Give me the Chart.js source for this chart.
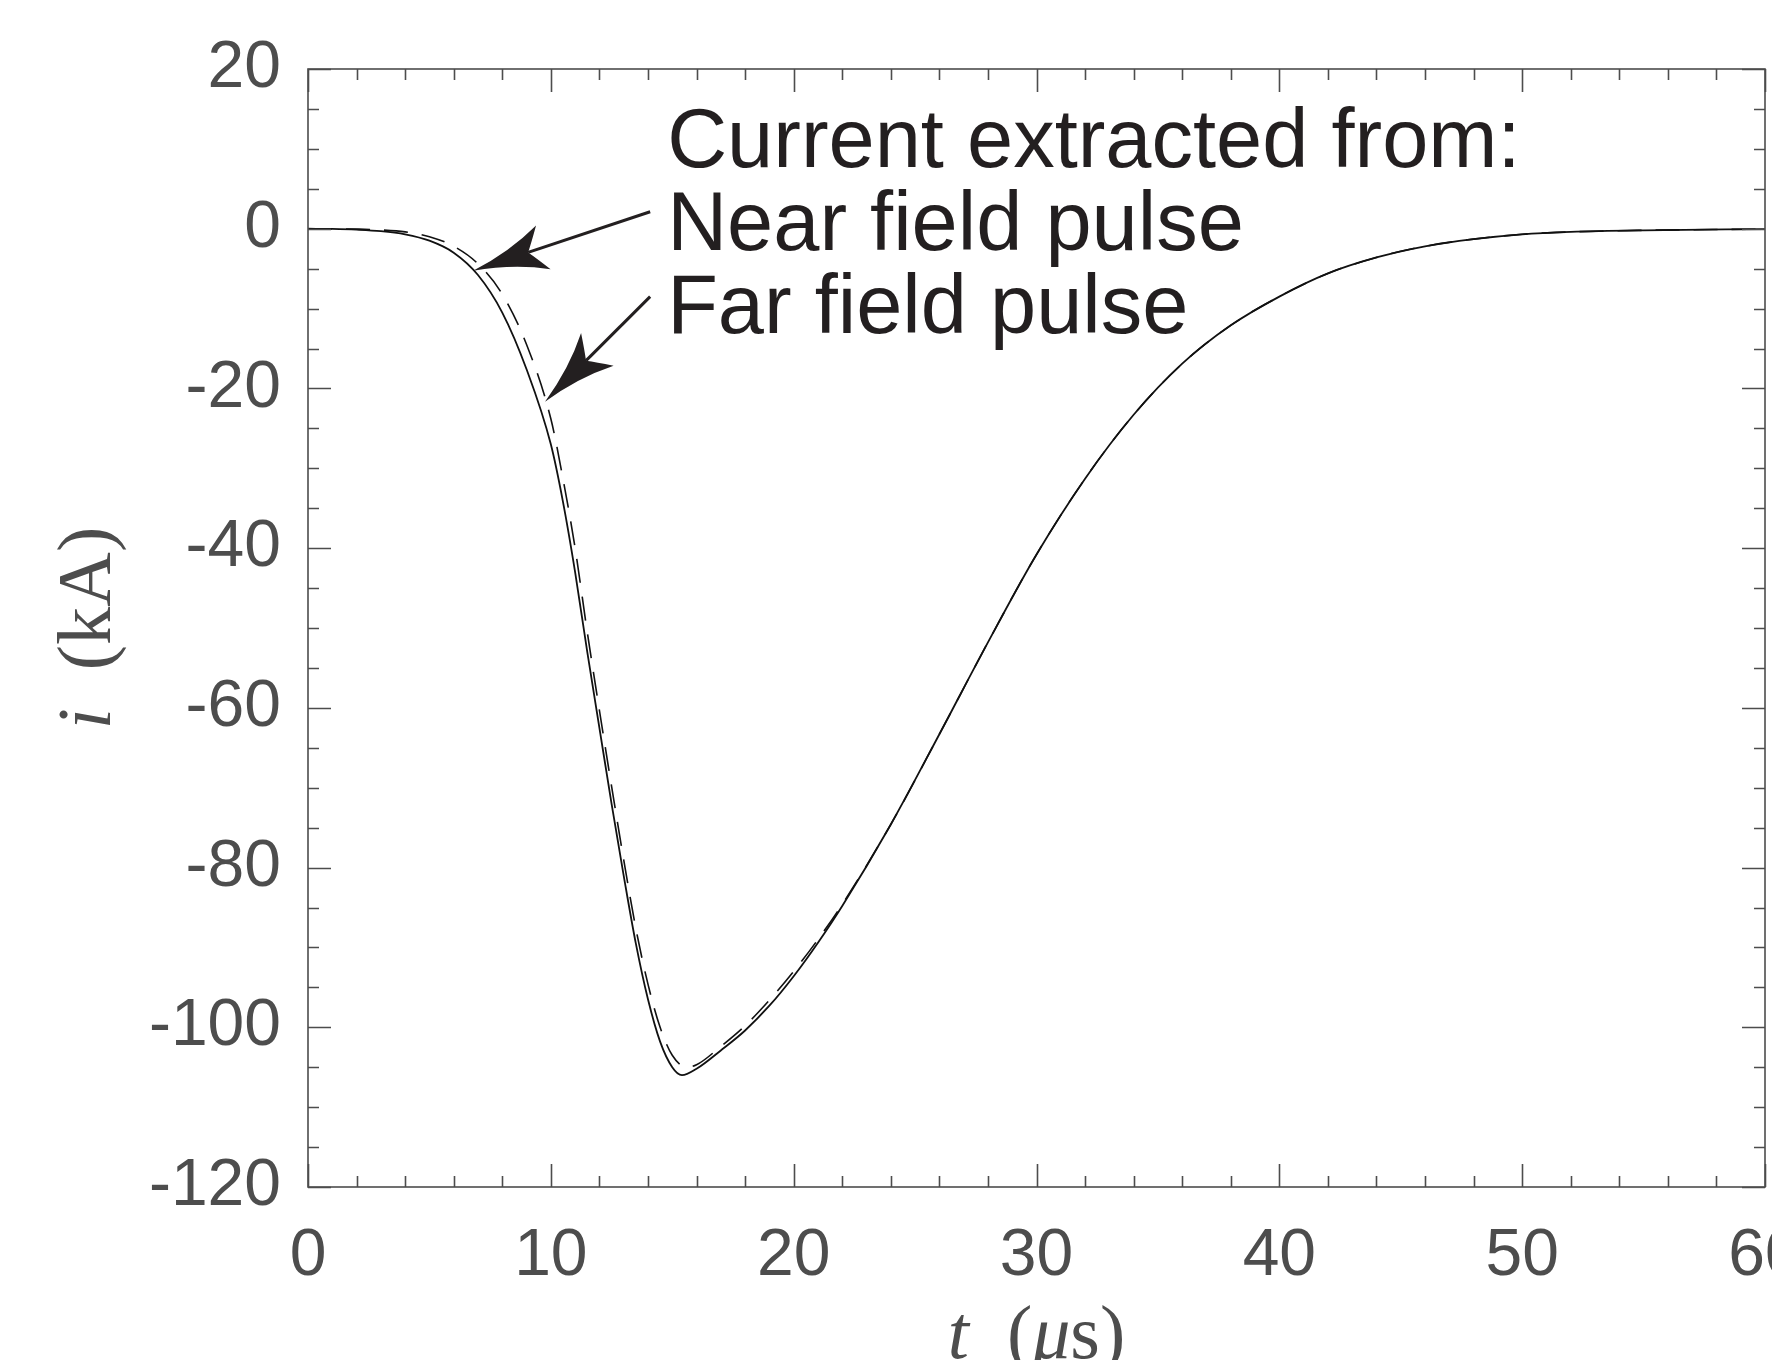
<!DOCTYPE html>
<html>
<head>
<meta charset="utf-8">
<script src="https://cdn.jsdelivr.net/npm/chart.js@4.4.0/dist/chart.umd.min.js"></script>
<style>
html,body{margin:0;padding:0;background:#ffffff;overflow:hidden;}
#wrap{width:1772px;height:1360px;position:relative;}
</style>
</head>
<body>
<div id="wrap"><canvas id="c" width="1772" height="1360"></canvas></div>
<script>
// ---- data ----
const timeNear = [0,1,2,3,4,5,6,7,8,9,10,10.5,11,11.5,12,12.5,13,13.5,14,14.5,15,15.4,16,17,18,19,20,21,22,24,26,28,30,32,34,36,38,40,42,44,46,48,50,52,55,60];
const currentNear = [0,-0.03,-0.12,-0.3,-0.7,-1.5,-3.0,-5.8,-10.5,-17.6,-27.0,-34.2,-43.0,-53.0,-62.5,-72.0,-81.0,-89.5,-96.5,-101.8,-105.0,-106.0,-105.2,-102.9,-100.4,-97.3,-93.6,-89.4,-84.8,-74.6,-63.3,-51.8,-40.8,-31.3,-23.3,-16.9,-12.1,-8.5,-5.6,-3.6,-2.2,-1.3,-0.7,-0.4,-0.2,-0.05];

const timeFar = [0,1,2,3,4,5,6,7,8,9,10,10.5,11,11.5,12,12.5,13,13.5,14,14.5,15,15.6,16,17,18,19,20,21,22,24,26,28,30,32,34,36,38,40,42,44,46,48,50,52,55,60];
const currentFar = [0,-0.01,-0.05,-0.15,-0.4,-1.0,-2.2,-4.4,-8.2,-14.5,-23.8,-31.3,-40.0,-50.5,-60.3,-69.8,-79.0,-87.6,-94.6,-100.0,-103.5,-105.0,-104.7,-102.4,-99.8,-96.6,-93.0,-89.0,-84.6,-74.6,-63.3,-51.8,-40.8,-31.3,-23.3,-16.9,-12.1,-8.5,-5.6,-3.6,-2.2,-1.3,-0.7,-0.4,-0.2,-0.05];

const xTickLabels = [0,10,20,30,40,50,60];
const yTickLabels = [20,0,-20,-40,-60,-80,-100,-120];

const noteLines = ['Current extracted from:', 'Near field pulse', 'Far field pulse'];

// ---- layout / style (not data) ----
const AXIS = '#4d4d4d';
const INK = '#231f20';
const noteAnchor = {t: 14.79, v: [7.76, -2.63, -13.0]};
const arrows = [
  {from: {t: 14.09, v: 2.13}, to: {t: 6.8, v: -5.26}},
  {from: {t: 14.09, v: -8.5}, to: {t: 9.76, v: -21.66}}
];

function pts(ts, vs){ return ts.map((t,i)=>({x:t, y:vs[i]})); }

const framePlugin = {
  id: 'frame',
  afterDatasetsDraw(chart){
    const {ctx, chartArea:a, scales:{x, y}} = chart;
    ctx.save();
    ctx.strokeStyle = AXIS;
    ctx.lineWidth = 1.6;
    ctx.beginPath();
    for (let v = 0; v <= 60; v += 2){
      const px = Math.round(x.getPixelForValue(v)) + 0.5;
      const L = (v % 10 === 0) ? 23 : 11;
      ctx.moveTo(px, a.bottom); ctx.lineTo(px, a.bottom - L);
      ctx.moveTo(px, a.top); ctx.lineTo(px, a.top + L);
    }
    for (let v = -120; v <= 20; v += 5){
      const py = Math.round(y.getPixelForValue(v)) + 0.5;
      const L = (v % 20 === 0) ? 23 : 11;
      ctx.moveTo(a.left, py); ctx.lineTo(a.left + L, py);
      ctx.moveTo(a.right, py); ctx.lineTo(a.right - L, py);
    }
    ctx.stroke();
    ctx.strokeRect(a.left, a.top, a.right - a.left, a.bottom - a.top);
    ctx.restore();
  },
  afterDraw(chart){
    const {ctx, chartArea:a, scales:{x, y}} = chart;
    ctx.save();
    // annotation text
    ctx.fillStyle = INK;
    ctx.font = '83px "Liberation Sans", Arial, sans-serif';
    ctx.textAlign = 'left';
    ctx.textBaseline = 'alphabetic';
    noteLines.forEach((s, i)=>{
      ctx.fillText(s, x.getPixelForValue(noteAnchor.t), y.getPixelForValue(noteAnchor.v[i]));
    });
    // arrows
    arrows.forEach(ar=>{
      const x0 = x.getPixelForValue(ar.from.t), y0 = y.getPixelForValue(ar.from.v);
      const x1 = x.getPixelForValue(ar.to.t), y1 = y.getPixelForValue(ar.to.v);
      const dx = x0 - x1, dy = y0 - y1, len = Math.hypot(dx, dy);
      const ux = dx/len, uy = dy/len, nx = -uy, ny = ux;
      const P = (al, pe)=>[x1 + ux*al + nx*pe, y1 + uy*al + ny*pe];
      ctx.strokeStyle = INK; ctx.lineWidth = 3;
      ctx.beginPath();
      const n = P(58, 0);
      ctx.moveTo(x0, y0); ctx.lineTo(n[0], n[1]); ctx.stroke();
      const b1 = P(74, -23), b2 = P(74, 23), c1 = P(40, -6), c2 = P(40, 6);
      const k1 = P(64, -8), k2 = P(64, 8);
      ctx.fillStyle = INK;
      ctx.beginPath();
      ctx.moveTo(x1, y1);
      ctx.quadraticCurveTo(c1[0], c1[1], b1[0], b1[1]);
      ctx.quadraticCurveTo(k1[0], k1[1], n[0], n[1]);
      ctx.quadraticCurveTo(k2[0], k2[1], b2[0], b2[1]);
      ctx.quadraticCurveTo(c2[0], c2[1], x1, y1);
      ctx.closePath();
      ctx.fill();
    });
    // y axis title: i (kA)
    ctx.fillStyle = AXIS;
    const fs = 76;
    const fItal = 'italic ' + fs + 'px "Liberation Serif", "Times New Roman", serif';
    const fReg = fs + 'px "Liberation Serif", "Times New Roman", serif';
    ctx.save();
    const ycx = (a.top + a.bottom) / 2;
    ctx.translate(110, ycx);
    ctx.rotate(-Math.PI/2);
    ctx.font = fItal; const wi = ctx.measureText('i').width;
    ctx.font = fReg; const wr = ctx.measureText('  (kA)').width;
    let sx = -(wi + wr)/2;
    ctx.textBaseline = 'alphabetic'; ctx.textAlign = 'left';
    ctx.font = fItal; ctx.fillText('i', sx, 0);
    ctx.font = fReg; ctx.fillText('  (kA)', sx + wi, 0);
    ctx.restore();
    // x axis title: t (μs)
    const xcx = (a.left + a.right) / 2;
    const parts = [['t', fItal], ['  (', fReg], ['\u03BC', fItal], ['s)', fReg]];
    let tw = 0;
    parts.forEach(p=>{ ctx.font = p[1]; tw += ctx.measureText(p[0]).width; });
    let px = xcx - tw/2;
    ctx.textAlign = 'left'; ctx.textBaseline = 'alphabetic';
    parts.forEach(p=>{ ctx.font = p[1]; ctx.fillText(p[0], px, 1358); px += ctx.measureText(p[0]).width; });
    ctx.restore();
  }
};

const tickFont = {family: '"Liberation Sans", Arial, sans-serif', size: 66};

new Chart(document.getElementById('c'), {
  type: 'line',
  data: {
    datasets: [
      {
        label: 'Near field pulse',
        data: pts(timeNear, currentNear),
        borderColor: '#111111',
        borderWidth: 1.8,
        pointRadius: 0,
        fill: false,
        cubicInterpolationMode: 'monotone'
      },
      {
        label: 'Far field pulse',
        data: pts(timeFar, currentFar),
        borderColor: '#111111',
        borderWidth: 1.6,
        borderDash: [24, 14],
        pointRadius: 0,
        fill: false,
        cubicInterpolationMode: 'monotone'
      }
    ]
  },
  options: {
    responsive: false,
    devicePixelRatio: 1,
    animation: false,
    events: [],
    layout: {padding: {top: 69, right: 7, left: 0, bottom: 0}},
    plugins: {legend: {display: false}, tooltip: {enabled: false}},
    scales: {
      x: {
        type: 'linear', min: 0, max: 60, position: 'bottom',
        afterBuildTicks: (s)=>{ s.ticks = xTickLabels.map(v=>({value:v})); },
        afterFit: (s)=>{ s.height = 173; s.paddingLeft = 0; s.paddingRight = 0; },
        ticks: {font: tickFont, color: AXIS, padding: 30, maxRotation: 0, autoSkip: false, callback: (v)=>String(v)},
        grid: {display: false, drawTicks: false},
        border: {display: false}
      },
      y: {
        type: 'linear', min: -120, max: 20,
        afterBuildTicks: (s)=>{ s.ticks = yTickLabels.map(v=>({value:v})); },
        afterFit: (s)=>{ s.width = 308; s.paddingTop = 0; s.paddingBottom = 0; },
        ticks: {font: tickFont, color: AXIS, padding: 27, autoSkip: false, callback: (v)=>String(v)},
        grid: {display: false, drawTicks: false},
        border: {display: false}
      }
    }
  },
  plugins: [framePlugin]
});
</script>
</body>
</html>
